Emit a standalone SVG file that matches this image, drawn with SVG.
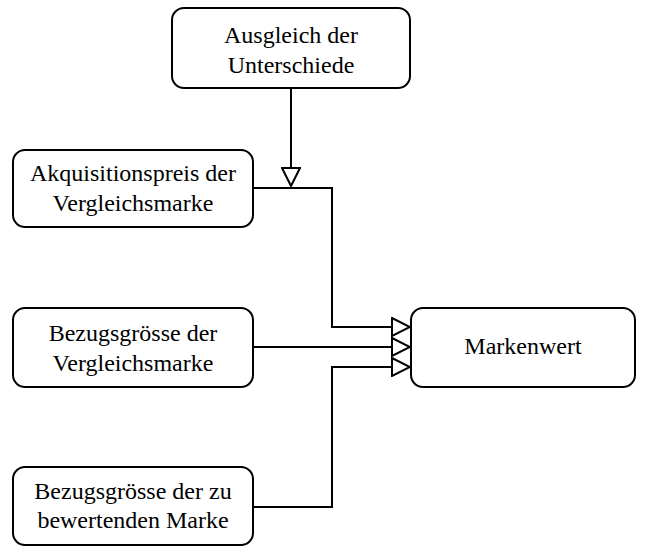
<svg xmlns="http://www.w3.org/2000/svg" width="648" height="546" viewBox="0 0 648 546">
  <defs>
    <marker id="tri" viewBox="0 0 20 20" refX="19" refY="10" markerWidth="20" markerHeight="20" markerUnits="userSpaceOnUse" orient="auto">
      <path d="M1,1 L19,10 L1,19 Z" fill="#fff" stroke="#000" stroke-width="2"/>
    </marker>
  </defs>
  <style>
    .box { fill: #fff; stroke: #000; stroke-width: 2; }
    .lbl { font-size: 24px; fill: #000; text-anchor: middle; }
    .edge { fill: none; stroke: #000; stroke-width: 2; }
  </style>
  <rect width="648" height="546" fill="#fff"/>

  <g id="connectors">
    <path class="edge" d="M291,88 V186" marker-end="url(#tri)"/>
    <path class="edge" d="M253,188 H332 V327 H410" marker-end="url(#tri)"/>
    <path class="edge" d="M253,347 H410" marker-end="url(#tri)"/>
    <path class="edge" d="M253,507 H332 V367 H410" marker-end="url(#tri)"/>
  </g>

  <g font-family="'Liberation Serif', Tinos, 'Times New Roman', Times, 'DejaVu Serif', serif">
    <g id="ausgleich">
      <rect class="box" x="172" y="8" width="238" height="80" rx="12"/>
      <text class="lbl" x="291" y="43">Ausgleich der</text>
      <text class="lbl" x="291" y="73">Unterschiede</text>
    </g>

    <g id="akquisitionspreis">
      <rect class="box" x="13" y="150" width="240" height="77" rx="12"/>
      <text class="lbl" x="133" y="181">Akquisitionspreis der</text>
      <text class="lbl" x="133" y="211">Vergleichsmarke</text>
    </g>

    <g id="bezugsgroesse-vergleich">
      <rect class="box" x="13" y="308" width="240" height="79" rx="12"/>
      <text class="lbl" x="133" y="341">Bezugsgrösse der</text>
      <text class="lbl" x="133" y="371">Vergleichsmarke</text>
    </g>

    <g id="bezugsgroesse-bewertend">
      <rect class="box" x="13" y="467" width="240" height="78" rx="12"/>
      <text class="lbl" x="133" y="499">Bezugsgrösse der zu</text>
      <text class="lbl" x="133" y="528">bewertenden Marke</text>
    </g>

    <g id="markenwert">
      <rect class="box" x="411" y="308" width="224" height="79" rx="12"/>
      <text class="lbl" x="523" y="354">Markenwert</text>
    </g>
  </g>
</svg>
